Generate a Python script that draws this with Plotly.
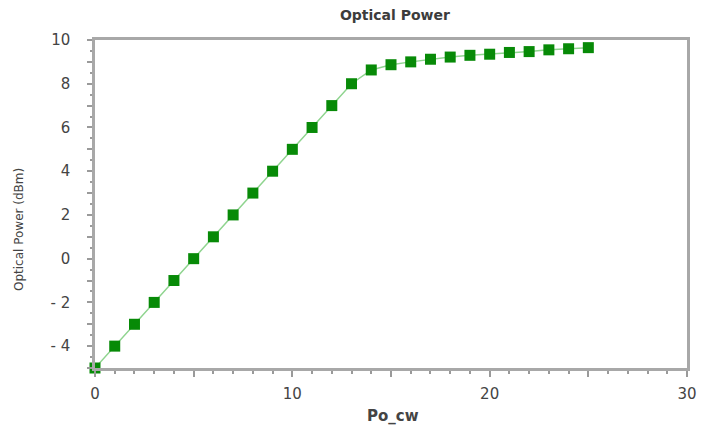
import plotly.graph_objects as go

# Sweep of the CW pump power and the resulting optical output power
po_cw = list(range(0, 26))
optical_power_dbm = [
    -5, -4, -3, -2, -1, 0, 1, 2, 3, 4, 5, 6, 7, 8,
    8.63, 8.87, 9.0, 9.12, 9.22, 9.3, 9.35, 9.43, 9.47, 9.55, 9.6, 9.65,
]

x_tick_vals = [0, 5, 10, 15, 20, 25, 30]
x_tick_text = ["0", "", "10", "", "20", "", "30"]
y_tick_vals = list(range(-5, 11))
y_tick_text = ["" if v % 2 or v == -5 else (f"- {abs(v)}" if v < 0 else str(v)) for v in y_tick_vals]

font_family = "DejaVu Sans, Arial, sans-serif"
text_grey = "#444444"
axis_grey = "#a8a8a8"

fig = go.Figure()
fig.add_trace(go.Scatter(
    x=po_cw,
    y=optical_power_dbm,
    mode="lines+markers",
    line=dict(color="#8fd48f", width=1.5),
    marker=dict(symbol="square", size=11, color="#078a07"),
    cliponaxis=False,
    showlegend=False,
))

fig.update_layout(
    width=709,
    height=430,
    margin=dict(l=95, r=14, t=40, b=62),
    paper_bgcolor="white",
    plot_bgcolor="white",
    font=dict(family=font_family, color=text_grey, size=14),
    title=dict(
        text="Optical Power",
        x=0.557, xanchor="center",
        y=1 - 15 / 430, yanchor="middle",
        font=dict(family=font_family, size=14, color="#3c3c3c", weight="bold"),
    ),
)

fig.update_xaxes(
    range=[0, 30],
    tickvals=x_tick_vals,
    ticktext=x_tick_text,
    ticks="outside",
    ticklen=6,
    tickwidth=1.5,
    tickcolor="#9a9a9a",
    minor=dict(dtick=1, ticks="outside", ticklen=3, tickcolor="#9a9a9a", showgrid=False),
    showgrid=False,
    zeroline=False,
    showline=True,
    linecolor=axis_grey,
    linewidth=2.5,
    mirror=True,
    tickfont=dict(size=15, color=text_grey),
    ticklabelstandoff=4,
)

fig.update_yaxes(
    range=[-5, 10],
    tickvals=y_tick_vals,
    ticktext=y_tick_text,
    ticks="outside",
    ticklen=5,
    tickwidth=1.5,
    tickcolor="#9a9a9a",
    minor=dict(dtick=0.5, ticks="outside", ticklen=2.5, tickcolor="#9a9a9a", showgrid=False),
    showgrid=False,
    zeroline=False,
    showline=True,
    linecolor=axis_grey,
    linewidth=2.5,
    mirror=True,
    tickfont=dict(size=15, color=text_grey),
    ticklabelstandoff=14,
)

# Axis titles placed as annotations in pixel-relative paper coordinates
fig.add_annotation(
    text="Po_cw", xref="paper", yref="paper",
    x=(397 - 95) / 600, y=-(416 - 368) / 328,
    xanchor="center", yanchor="middle", showarrow=False,
    font=dict(family=font_family, size=15, color=text_grey, weight="bold"),
)
fig.add_annotation(
    text="Optical Power (dBm)", xref="paper", yref="paper",
    x=-(95 - 18) / 600, y=(368 - 230) / 328,
    xanchor="center", yanchor="middle", textangle=-90, showarrow=False,
    font=dict(family=font_family, size=12, color=text_grey),
)

fig.write_html("out.html")
